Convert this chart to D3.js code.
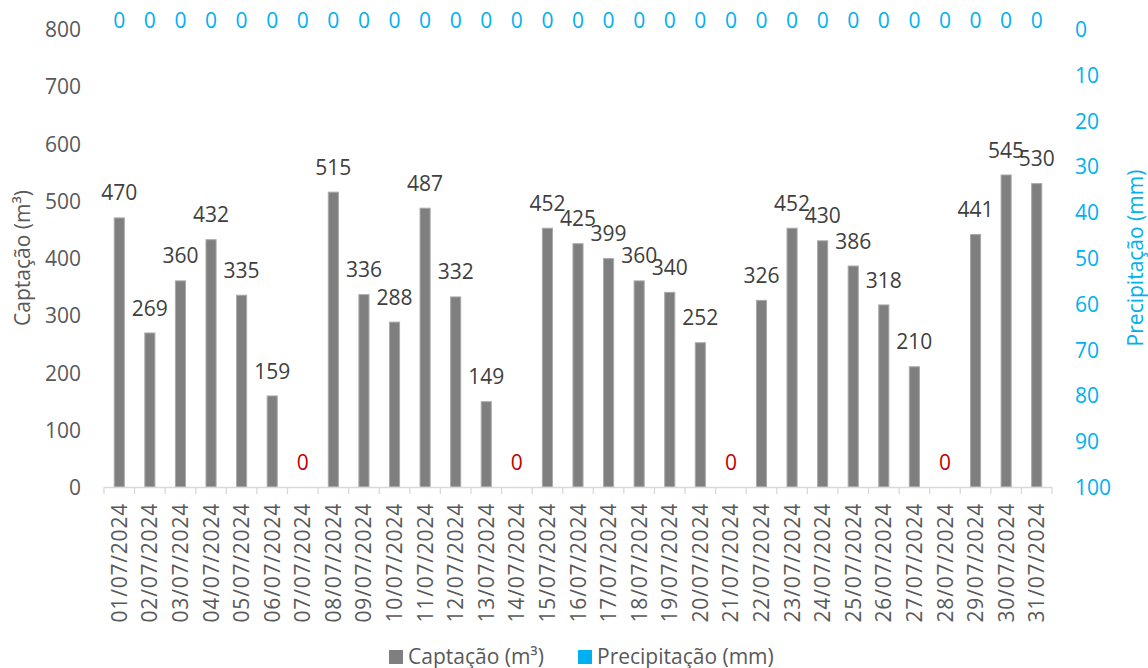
<!DOCTYPE html>
<html>
<head>
<meta charset="utf-8">
<script src="https://cdn.jsdelivr.net/npm/d3@7"></script>
<style>
  html, body { margin: 0; padding: 0; background: #ffffff; }
  svg { display: block; font-family: "Open Sans", sans-serif; }
</style>
</head>
<body>
<svg id="chart" width="1148" height="668"></svg>
<script>
// Daily water intake (m³) and rainfall (mm), July 2024
const dates = [
  "01/07/2024","02/07/2024","03/07/2024","04/07/2024","05/07/2024","06/07/2024","07/07/2024",
  "08/07/2024","09/07/2024","10/07/2024","11/07/2024","12/07/2024","13/07/2024","14/07/2024",
  "15/07/2024","16/07/2024","17/07/2024","18/07/2024","19/07/2024","20/07/2024","21/07/2024",
  "22/07/2024","23/07/2024","24/07/2024","25/07/2024","26/07/2024","27/07/2024","28/07/2024",
  "29/07/2024","30/07/2024","31/07/2024"
];
const captacao = [470, 269, 360, 432, 335, 159, 0, 515, 336, 288, 487, 332, 149, 0,
  452, 425, 399, 360, 340, 252, 0, 326, 452, 430, 386, 318, 210, 0, 441, 545, 530];
const precipitacao = [0, 0, 0, 0, 0, 0, 0, 0, 0, 0, 0, 0, 0, 0, 0, 0,
  0, 0, 0, 0, 0, 0, 0, 0, 0, 0, 0, 0, 0, 0, 0];
const leftTicks = [0, 100, 200, 300, 400, 500, 600, 700, 800];
const rightTicks = [0, 10, 20, 30, 40, 50, 60, 70, 80, 90, 100];
const seriesNames = ["Captação (m³)", "Precipitação (mm)"];

const FONT = 21;
const plot = { left: 104, right: 1052, top: 29, bottom: 487 };
const svg = d3.select("#chart");

const x = d3.scaleBand()
  .domain(dates)
  .range([plot.left, plot.right])
  .paddingInner(0.67)
  .paddingOuter(0.335);

const y = d3.scaleLinear().domain([0, 800]).range([plot.bottom, plot.top]);
// rainfall axis is inverted: 0 at the top, 100 at the bottom
const yR = d3.scaleLinear().domain([0, 100]).range([plot.top, plot.bottom]);

const cx = d => x(d) + x.bandwidth() / 2;

// left axis
const gL = svg.append("g")
  .attr("transform", `translate(${plot.left},0)`)
  .call(d3.axisLeft(y).tickValues(leftTicks).tickSize(0).tickPadding(23));
gL.select(".domain").remove();
gL.selectAll("text")
  .attr("font-size", FONT).attr("font-family", "Open Sans")
  .attr("fill", "#595959").attr("dy", "0.36em");

// right axis
const gR = svg.append("g")
  .attr("transform", `translate(${plot.right},0)`)
  .call(d3.axisRight(yR).tickValues(rightTicks).tickSize(0).tickPadding(23));
gR.select(".domain").remove();
gR.selectAll("text")
  .attr("font-size", FONT).attr("font-family", "Open Sans")
  .attr("fill", "#00b0f0").attr("dy", "0.36em");

// bars
svg.append("g").selectAll("rect")
  .data(dates.map((d, i) => ({ d, v: captacao[i] })).filter(o => o.v > 0))
  .join("rect")
  .attr("x", o => x(o.d))
  .attr("width", x.bandwidth())
  .attr("y", o => y(o.v))
  .attr("height", o => y(0) - y(o.v))
  .attr("fill", "#7f7f7f")
  .attr("stroke", "#a9a9a9")
  .attr("stroke-width", 1);

// rainfall bars (hanging from the top)
svg.append("g").selectAll("rect")
  .data(dates.map((d, i) => ({ d, v: precipitacao[i] })))
  .join("rect")
  .attr("x", o => x(o.d))
  .attr("width", x.bandwidth())
  .attr("y", yR(0))
  .attr("height", o => yR(o.v) - yR(0))
  .attr("fill", "#00b0f0");

// category axis line + tick marks between days
const step = x.step();
svg.append("line")
  .attr("x1", plot.left).attr("x2", plot.right)
  .attr("y1", plot.bottom + 0.5).attr("y2", plot.bottom + 0.5)
  .attr("stroke", "#d9d9d9").attr("stroke-width", 1.3);
const boundaries = dates.map(d => cx(d) - step / 2).concat([cx(dates[dates.length - 1]) + step / 2]);
svg.append("g").selectAll("line")
  .data(boundaries)
  .join("line")
  .attr("x1", b => b).attr("x2", b => b)
  .attr("y1", plot.bottom).attr("y2", plot.bottom + 7)
  .attr("stroke", "#d9d9d9").attr("stroke-width", 1.3);

// date labels
svg.append("g").selectAll("text")
  .data(dates)
  .join("text")
  .attr("transform", d => `translate(${cx(d)},503) rotate(-90)`)
  .attr("text-anchor", "end")
  .attr("dy", "0.36em")
  .attr("font-size", FONT)
  .attr("letter-spacing", 0.8)
  .attr("fill", "#595959")
  .text(d => d);

// value labels for intake
svg.append("g").selectAll("text")
  .data(dates.map((d, i) => ({ d, v: captacao[i] })))
  .join("text")
  .attr("x", o => cx(o.d))
  .attr("y", o => y(o.v) - 25)
  .attr("dy", "0.36em")
  .attr("text-anchor", "middle")
  .attr("font-size", FONT)
  .attr("fill", o => o.v === 0 ? "#c00000" : "#404040")
  .text(o => o.v);

// value labels for rainfall
svg.append("g").selectAll("text")
  .data(dates.map((d, i) => ({ d, v: precipitacao[i] })))
  .join("text")
  .attr("x", o => cx(o.d))
  .attr("y", o => yR(o.v) - 9)
  .attr("dy", "0.36em")
  .attr("text-anchor", "middle")
  .attr("font-size", FONT)
  .attr("fill", "#00b0f0")
  .text(o => o.v);

// axis titles
svg.append("text")
  .attr("transform", `translate(22,${(plot.top + plot.bottom) / 2}) rotate(-90)`)
  .attr("text-anchor", "middle").attr("dy", "0.36em")
  .attr("font-size", FONT).attr("fill", "#595959")
  .text(seriesNames[0]);
svg.append("text")
  .attr("transform", `translate(1135,${(plot.top + plot.bottom) / 2}) rotate(-90)`)
  .attr("text-anchor", "middle").attr("dy", "0.36em")
  .attr("font-size", FONT).attr("fill", "#00b0f0")
  .text(seriesNames[1]);

// legend
const legend = svg.append("g");
const legendItems = [
  { name: seriesNames[0], color: "#7f7f7f", x: 389 },
  { name: seriesNames[1], color: "#00b0f0", x: 578 }
];
legendItems.forEach(it => {
  legend.append("rect")
    .attr("x", it.x).attr("y", 650).attr("width", 14).attr("height", 14)
    .attr("fill", it.color);
  legend.append("text")
    .attr("x", it.x + 19).attr("y", 656).attr("dy", "0.36em")
    .attr("font-size", FONT).attr("fill", "#595959")
    .text(it.name);
});
</script>
</body>
</html>
